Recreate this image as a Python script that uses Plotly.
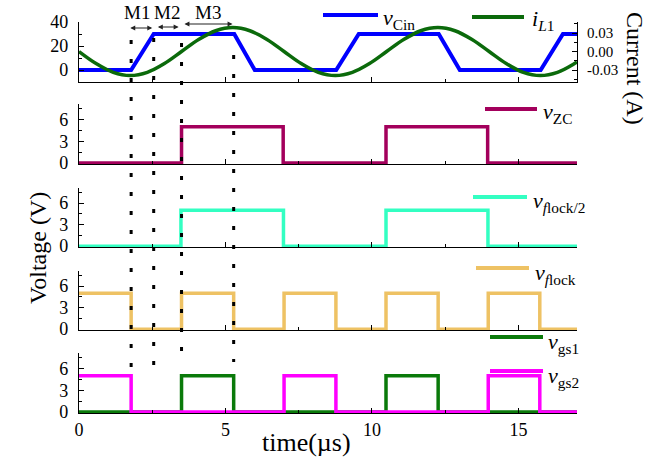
import plotly.graph_objects as go

# ---------------- data ----------------
t_end = 17.0
# v_Cin trapezoid (V)
vcin_t = [0, 1.78, 2.55, 5.30, 6.00, 8.78, 9.55, 12.28, 13.00, 15.76, 16.52, 17.0]
vcin_v = [0, 0, 30, 30, 0, 0, 30, 30, 0, 0, 30, 30]
# i_L1 (A)
il1_t = [0, 0.583, 1.167, 1.75, 2.333, 2.917, 3.5, 4.083, 4.667, 5.25, 5.833, 6.417,
         7.0, 7.583, 8.167, 8.75, 9.333, 9.917, 10.5, 11.083, 11.667, 12.25, 12.833,
         13.417, 14.0, 14.583, 15.167, 15.75, 16.333, 16.917, 17.0]
il1_v = [0.0, -0.0195, -0.0338, -0.039, -0.0338, -0.0195, 0.0, 0.0195, 0.0338, 0.039,
         0.0338, 0.0195, 0.0, -0.0195, -0.0338, -0.039, -0.0338, -0.0195, 0.0, 0.0195,
         0.0338, 0.039, 0.0338, 0.0195, 0.0, -0.0195, -0.0338, -0.039, -0.0338, -0.0195,
         -0.0169]
# square waves (step, hold value until next time)
vzc_t = [0, 3.50, 6.97, 10.48, 13.95, 17.0]
vzc_v = [0, 5, 0, 5, 0, 0]
vfl2_t = [0, 3.48, 6.98, 10.48, 13.96, 17.0]
vfl2_v = [0, 5, 0, 5, 0, 0]
vfl_t = [0, 1.78, 3.50, 5.28, 7.00, 8.77, 10.48, 12.26, 13.97, 15.73, 17.0]
vfl_v = [5, 0, 5, 0, 5, 0, 5, 0, 5, 0, 0]
vgs1_t = [0, 3.50, 5.28, 10.48, 12.26, 17.0]
vgs1_v = [0, 5, 0, 5, 0, 0]
vgs2_t = [0, 1.78, 7.00, 8.77, 13.97, 15.73, 17.0]
vgs2_v = [5, 0, 5, 0, 5, 0, 0]
# mode boundaries (µs)
mode_t = [1.78, 2.55, 3.50, 5.28]
mode_labels = ["M1", "M2", "M3"]
x_ticks = [0, 5, 10, 15]
v_ticks = [0, 3, 6]

# ---------------- style ----------------
FONT = "Liberation Serif"
C_CIN = "#0000FF"
C_IL1 = "#0B6A0B"
C_ZC = "#A3005C"
C_FL2 = "#33FFC2"
C_FL = "#EEC264"
C_GS1 = "#0A7A0A"
C_GS2 = "#FF00FF"

W, H = 670, 461
ML, MR, MT, MB = 79, 93, 22, 48
PW = W - ML - MR
PH = H - MT - MB


def px(x):
    return (x - ML) / PW


def py(y):
    return (H - MB - y) / PH


doms = [
    [py(82), 1.0],
    [py(164), py(104)],
    [py(247), py(188)],
    [py(330), py(271)],
    [0.0, py(353)],
]

fig = go.Figure()
fig.add_trace(go.Scatter(x=vcin_t, y=vcin_v, mode="lines", line=dict(color=C_CIN, width=4),
                         xaxis="x", yaxis="y", showlegend=False))
fig.add_trace(go.Scatter(x=il1_t, y=il1_v, mode="lines", line=dict(color=C_IL1, width=3.5, shape="spline"),
                         xaxis="x", yaxis="y6", showlegend=False))
fig.add_trace(go.Scatter(x=vzc_t, y=vzc_v, mode="lines", line=dict(color=C_ZC, width=3.5, shape="hv"),
                         xaxis="x2", yaxis="y2", showlegend=False))
fig.add_trace(go.Scatter(x=vfl2_t, y=vfl2_v, mode="lines", line=dict(color=C_FL2, width=3.5, shape="hv"),
                         xaxis="x3", yaxis="y3", showlegend=False))
fig.add_trace(go.Scatter(x=vfl_t, y=vfl_v, mode="lines", line=dict(color=C_FL, width=3.5, shape="hv"),
                         xaxis="x4", yaxis="y4", showlegend=False))
fig.add_trace(go.Scatter(x=vgs1_t, y=vgs1_v, mode="lines", line=dict(color=C_GS1, width=3.5, shape="hv"),
                         xaxis="x5", yaxis="y5", showlegend=False))
fig.add_trace(go.Scatter(x=vgs2_t, y=vgs2_v, mode="lines", line=dict(color=C_GS2, width=3.5, shape="hv"),
                         xaxis="x5", yaxis="y5", showlegend=False))

tickfont = dict(family=FONT, size=18, color="black")
common_x = dict(range=[0, t_end], tickvals=x_ticks, ticks="inside", ticklen=5, tickwidth=1.2,
                tickcolor="black", showline=True, linecolor="black", linewidth=1.2,
                showgrid=False, zeroline=False, tickfont=tickfont, automargin=False,
                minor=dict(dtick=2.5, ticks="inside", ticklen=3, tickcolor="black"))
common_y = dict(ticks="inside", ticklen=5, tickwidth=1.2, tickcolor="black", showline=True,
                linecolor="black", linewidth=1.2, showgrid=False, zeroline=False,
                tickfont=tickfont, ticklabelstandoff=6, automargin=False)

layout = dict(
    width=W, height=H, margin=dict(l=ML, r=MR, t=MT, b=MB, autoexpand=False),
    paper_bgcolor="white", plot_bgcolor="white", showlegend=False,
    font=dict(family=FONT, color="black"),
)
for i in range(5):
    xn = "xaxis" if i == 0 else f"xaxis{i+1}"
    yn = "yaxis" if i == 0 else f"yaxis{i+1}"
    xa = dict(common_x)
    xa["domain"] = [0, 1]
    xa["anchor"] = "y" if i == 0 else f"y{i+1}"
    xa["showticklabels"] = (i == 4)
    if i > 0:
        xa["matches"] = "x"
    layout[xn] = xa
    ya = dict(common_y)
    ya["domain"] = doms[i]
    ya["anchor"] = "x" if i == 0 else f"x{i+1}"
    if i == 0:
        ya["range"] = [-10, 40]
        ya["tickvals"] = [0, 20, 40]
        ya["minor"] = dict(dtick=10, ticks="inside", ticklen=3, tickcolor="black")
    else:
        ya["range"] = [-0.12, 8.1]
        ya["tickvals"] = v_ticks
        ya["minor"] = dict(dtick=1.5, ticks="inside", ticklen=3, tickcolor="black")
    layout[yn] = ya

layout["yaxis6"] = dict(common_y, overlaying="y", side="right", anchor="x",
                        range=[-0.0495, 0.048], tickvals=[-0.03, 0, 0.03],
                        ticktext=["-0.03", "0.00", "0.03"],
                        tickfont=dict(family=FONT, size=15, color="black"),
                        minor=dict(dtick=0.015, ticks="inside", ticklen=3, tickcolor="black"))
fig.update_layout(**layout)

# dotted mode boundary lines
tops = [40, 38, 43, 55]
bots = [378, 376, 362, 362]
for t, yt, yb in zip(mode_t, tops, bots):
    fig.add_shape(type="line", xref="x", yref="paper", x0=t, x1=t, y0=py(yt), y1=py(yb),
                  line=dict(color="black", width=3, dash="4px,15px"))

# mode arrows + labels
arrow_y = [28, 27, 24]
arrow_x = [(mode_t[0] - 0.08, mode_t[1] - 0.05), (mode_t[1] + 0.09, mode_t[2] - 0.1),
           (mode_t[2] + 0.05, mode_t[3] - 0.04)]
label_x = [137, 167, 208]
for (a0, a1), ay, lbl, lx in zip(arrow_x, arrow_y, mode_labels, label_x):
    fig.add_annotation(x=a1, y=py(ay), ax=a0, ay=0, xref="x", yref="paper", axref="x", ayref="pixel",
                       text="", showarrow=True, arrowhead=2, arrowside="end+start", arrowsize=0.9,
                       arrowwidth=1.1, arrowcolor="#222222", standoff=0, startstandoff=0)
    fig.add_annotation(x=px(lx), y=py(12), xref="paper", yref="paper", text=lbl, showarrow=False,
                       font=dict(family=FONT, size=19, color="black"), xanchor="center", yanchor="middle")

# legend samples and labels
legend = [
    (323, 378, 15, C_CIN, "<i>v</i><sub>Cin</sub>", 381, 19),
    (472, 524, 17, C_IL1, "<i>i</i><sub><i>L</i>1</sub>", 530, 20),
    (485, 537, 109, C_ZC, "<i>v</i><sub>ZC</sub>", 541, 113),
    (473, 527, 197, C_FL2, "<i>v</i><sub><i>f</i>lock/2</sub>", 531, 202),
    (476, 529, 268, C_FL, "<i>v</i><sub><i>f</i>lock</sub>", 533, 274),
    (490, 543, 337, C_GS1, "<i>v</i><sub>gs1</sub>", 546, 343),
    (490, 543, 371, C_GS2, "<i>v</i><sub>gs2</sub>", 546, 377),
]
for x0, x1, yy, col, txt, tx, ty in legend:
    fig.add_shape(type="line", xref="paper", yref="paper", x0=px(x0), x1=px(x1), y0=py(yy), y1=py(yy),
                  line=dict(color=col, width=4))
    fig.add_annotation(x=px(tx), y=py(ty), xref="paper", yref="paper", text=txt, showarrow=False,
                       font=dict(family=FONT, size=22, color="black"), xanchor="left", yanchor="middle")

# axis titles
fig.add_annotation(x=px(38), y=py(248), xref="paper", yref="paper", text="Voltage (V)", textangle=-90,
                   showarrow=False, font=dict(family=FONT, size=24, color="black"),
                   xanchor="center", yanchor="middle")
fig.add_annotation(x=px(635), y=py(68), xref="paper", yref="paper", text="Current (A)", textangle=90,
                   showarrow=False, font=dict(family=FONT, size=24, color="black"),
                   xanchor="center", yanchor="middle")
fig.add_annotation(x=px(306), y=py(442), xref="paper", yref="paper", text="time(µs)",
                   showarrow=False, font=dict(family=FONT, size=26, color="black"),
                   xanchor="center", yanchor="middle")

fig.write_html("out.html", config={"displayModeBar": False},
               post_script="document.body.style.margin='0';document.body.style.padding='0';")
